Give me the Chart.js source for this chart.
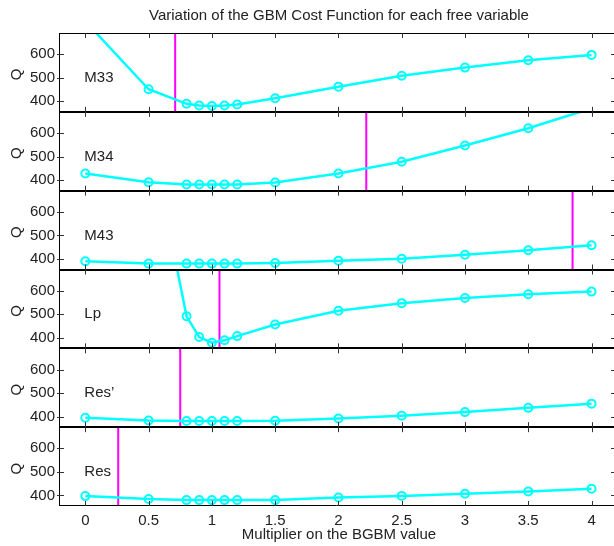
<!DOCTYPE html>
<html>
<head>
<meta charset="utf-8">
<script src="https://cdn.jsdelivr.net/npm/chart.js@4/dist/chart.umd.min.js"></script>
<style>
  html, body { margin: 0; padding: 0; background: #fff; }
  #wrap { width: 614px; height: 546px; }
</style>
</head>
<body>
<div id="wrap"><canvas id="gbmChart"></canvas></div>
<script>
// multipliers on the BGBM value (shared x values)
const multipliers = [0, 0.5, 0.8, 0.9, 1, 1.1, 1.2, 1.5, 2, 2.5, 3, 3.5, 4];

// cost function Q for each free variable (top panel first)
const qM33 = [740, 451, 389, 382, 380, 382, 386, 413, 462, 508, 543, 574, 597];
const qM34 = [428, 391, 381, 381, 381, 381, 381, 390, 428, 478, 547, 620, 705];
const qM43 = [390, 380, 380, 380, 380, 380, 380, 383, 392, 401, 418, 437, 458];
const qLp = [2500, 1300, 491, 403, 379, 389, 407, 456, 515, 547, 569, 585, 596];
const qResPrime = [395, 383, 381, 381, 381, 381, 381, 382, 392, 404, 419, 437, 455];
const qRes = [397, 385, 380, 380, 380, 380, 380, 380, 391, 398, 407, 417, 428];

const panelNames = ['M33', 'M34', 'M43', 'Lp', 'Res\u2019', 'Res'];
const panelSeries = [qM33, qM34, qM43, qLp, qResPrime, qRes];

// position of the magenta marker line in each panel
const markerX = [0.71, 2.22, 3.85, 1.06, 0.75, 0.26];

// tick labels
const xTicks = [0, 0.5, 1, 1.5, 2, 2.5, 3, 3.5, 4];
const yTicks = [400, 500, 600];

const titleText = 'Variation of the GBM Cost Function for each free variable';
const xLabel = 'Multiplier on the BGBM value';

const Y_MIN = 355;
const Y_MAX = 690;
const FONT = '15px "Liberation Sans", Arial, sans-serif';
const TEXT = '#222';

Chart.defaults.font.family = '"Liberation Sans", Arial, sans-serif';
Chart.defaults.font.size = 15;
Chart.defaults.color = TEXT;

// build datasets: cyan curve + magenta vertical line per panel
const datasets = [];
panelSeries.forEach((series, i) => {
    datasets.push({
        data: multipliers.map((m, j) => ({ x: m, y: series[j] })),
        yAxisID: 'y' + i,
        borderColor: '#00ffff',
        borderWidth: 2.5,
        pointRadius: 4,
        pointBorderWidth: 2,
        pointBorderColor: '#00ffff',
        pointBackgroundColor: 'rgba(0,0,0,0)',
        tension: 0
    });
});
markerX.forEach((m, i) => {
    datasets.push({
        data: [{ x: m, y: Y_MIN }, { x: m, y: Y_MAX }],
        yAxisID: 'y' + i,
        borderColor: '#ff00ff',
        borderWidth: 2,
        pointRadius: 0
    });
});

const scales = {
    x: {
        type: 'linear',
        min: -0.2,
        max: 4.13, // the right frame edge is cut off by the picture
        afterBuildTicks: s => { s.ticks = xTicks.map(v => ({ value: v })); },
        afterFit: s => {
            s.height = 40;
            s.paddingLeft = 0;
            s.paddingRight = 0;
        },
        grid: { display: false, drawTicks: false },
        border: { display: false },
        ticks: {
            padding: 6,
            color: TEXT,
            font: { size: 15 },
            callback: v => String(v)
        }
    }
};
// one y axis per panel, stacked on the left (Chart.js stacks bottom-up, so add the bottom panel first)
for (let i = panelNames.length - 1; i >= 0; i--) {
    scales['y' + i] = {
        type: 'linear',
        position: 'left',
        stack: 'panels',
        stackWeight: 1,
        min: Y_MIN,
        max: Y_MAX,
        afterBuildTicks: s => { s.ticks = yTicks.map(v => ({ value: v })); },
        afterFit: s => { s.width = 60; },
        grid: { display: false, drawTicks: false },
        border: { display: false },
        ticks: { padding: 5, color: TEXT, font: { size: 15 } }
    };
}

// keep every curve inside its own panel
const panelClip = {
    id: 'panelClip',
    beforeDatasetDraw(chart, args) {
        const ys = args.meta.yScale;
        chart.ctx.save();
        chart.ctx.beginPath();
        chart.ctx.rect(chart.chartArea.left, ys.top, chart.width, ys.bottom - ys.top);
        chart.ctx.clip();
    },
    afterDatasetDraw(chart) {
        chart.ctx.restore();
    }
};

// frame, inward ticks, panel names and texts
const framePlugin = {
    id: 'frame',
    afterDraw(chart) {
        const ctx = chart.ctx;
        const a = chart.chartArea;
        const xs = chart.scales.x;
        const right = chart.width;
        ctx.save();

        ctx.strokeStyle = '#000';
        ctx.lineWidth = 1;
        ctx.beginPath();
        ctx.moveTo(a.left - 0.5, a.top);
        ctx.lineTo(a.left - 0.5, a.bottom);
        ctx.moveTo(a.left - 1, a.top + 0.5);
        ctx.lineTo(right, a.top + 0.5);
        ctx.moveTo(a.left - 1, a.bottom - 0.5);
        ctx.lineTo(right, a.bottom - 0.5);
        ctx.stroke();

        // separators between panels
        ctx.lineWidth = 2;
        ctx.beginPath();
        panelNames.forEach((name, i) => {
            if (i === 0) return;
            const y = Math.round(chart.scales['y' + i].top);
            ctx.moveTo(a.left - 1, y);
            ctx.lineTo(right, y);
        });
        ctx.stroke();

        ctx.strokeStyle = '#333';
        ctx.lineWidth = 1;
        ctx.beginPath();
        panelNames.forEach((name, i) => {
            const ys = chart.scales['y' + i];
            xTicks.forEach(v => {
                const px = Math.round(xs.getPixelForValue(v)) + 0.5;
                ctx.moveTo(px, ys.top);
                ctx.lineTo(px, ys.top + 5);
                ctx.moveTo(px, ys.bottom);
                ctx.lineTo(px, ys.bottom - 5);
            });
            yTicks.forEach(v => {
                const py = Math.round(ys.getPixelForValue(v)) + 0.5;
                ctx.moveTo(a.left - 3, py);
                ctx.lineTo(a.left + 4, py);
                ctx.moveTo(right - 3, py);
                ctx.lineTo(right, py);
            });
        });
        ctx.stroke();

        ctx.fillStyle = TEXT;
        ctx.font = FONT;
        ctx.textBaseline = 'middle';
        panelNames.forEach((name, i) => {
            const ys = chart.scales['y' + i];
            ctx.textAlign = 'left';
            ctx.fillText(name, xs.getPixelForValue(0) - 1, ys.getPixelForValue(500));
            ctx.save();
            ctx.translate(17, (ys.top + ys.bottom) / 2 + 2);
            ctx.rotate(-Math.PI / 2);
            ctx.textAlign = 'center';
            ctx.fillText('Q', 0, 0);
            ctx.restore();
        });

        ctx.textAlign = 'center';
        ctx.fillText(titleText, 339, 15.5);
        ctx.fillText(xLabel, 339, 535);
        ctx.restore();
    }
};

const gbmChart = new Chart(document.getElementById('gbmChart'), {
    type: 'line',
    data: { datasets: datasets },
    options: {
        responsive: true,
        maintainAspectRatio: false,
        animation: false,
        layout: { padding: { top: 33, right: -3, left: 0, bottom: 0 } },
        scales: scales,
        plugins: {
            legend: { display: false },
            title: { display: false },
            tooltip: { enabled: false }
        }
    },
    plugins: [panelClip, framePlugin]
});
</script>
</body>
</html>
